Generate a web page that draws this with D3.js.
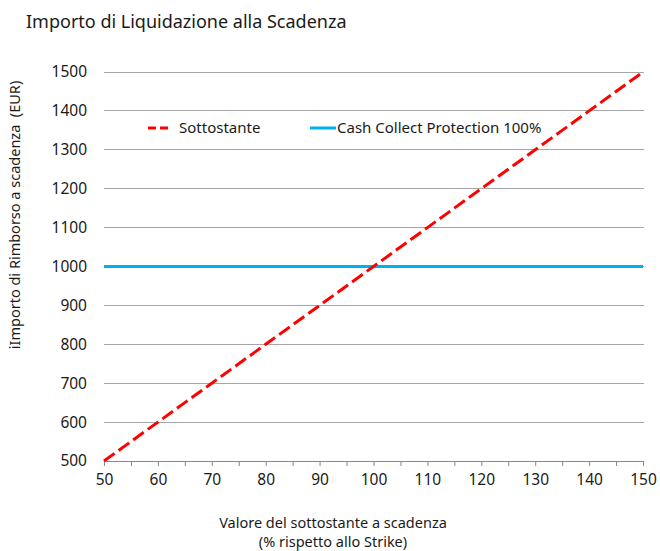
<!DOCTYPE html>
<html><head><meta charset="utf-8">
<script src="https://cdn.jsdelivr.net/npm/d3@7"></script>
<style>body{margin:0;background:#fff}svg{display:block}text{font-family:"Noto Sans",sans-serif;fill:#1a1a1a}</style>
</head><body>
<script>
const xValues = [50,55,60,65,70,75,80,85,90,95,100,105,110,115,120,125,130,135,140,145,150];
const sottostante = [500,550,600,650,700,750,800,850,900,950,1000,1050,1100,1150,1200,1250,1300,1350,1400,1450,1500];
const protection = [1000,1000,1000,1000,1000,1000,1000,1000,1000,1000,1000,1000,1000,1000,1000,1000,1000,1000,1000,1000,1000];
const yTicks = [500,600,700,800,900,1000,1100,1200,1300,1400,1500];
const xTicks = [50,60,70,80,90,100,110,120,130,140,150];
const seriesNames = ["Sottostante","Cash Collect Protection 100%"];

const W=660,H=551;
const svg=d3.select("body").append("svg").attr("width",W).attr("height",H);
const x=d3.scaleLinear().domain([50,150]).range([104,643]);
const y=d3.scaleLinear().domain([500,1500]).range([461,72]);

svg.append("text").attr("x",26).attr("y",28).attr("font-size",18).attr("fill","#000").text("Importo di Liquidazione alla Scadenza");

// grid
svg.append("g").selectAll("line").data(yTicks.filter(d=>d>500)).join("line")
  .attr("x1",104).attr("x2",644).attr("y1",d=>y(d)).attr("y2",d=>y(d))
  .attr("stroke","#a6a6a6").attr("stroke-width",1).attr("shape-rendering","crispEdges");

// y axis labels
const ya=svg.append("g").attr("transform","translate(104,0)")
  .call(d3.axisLeft(y).tickValues(yTicks).tickSize(0).tickPadding(17).tickFormat(d3.format("d")));
ya.select(".domain").remove();
ya.selectAll("text").attr("font-size",15.5).attr("font-family","Noto Sans").attr("fill","#1a1a1a");

// x axis
const xa=svg.append("g").attr("transform",`translate(0,${y(500)})`)
  .call(d3.axisBottom(x).tickValues(xValues).tickSize(5).tickSizeOuter(0).tickFormat(d=>xTicks.includes(d)?d:""));
xa.select(".domain").attr("stroke","#888");
xa.selectAll(".tick line").attr("stroke","#888");
xa.selectAll("text").attr("font-size",15.5).attr("font-family","Noto Sans").attr("fill","#1a1a1a").attr("dy","1.05em");

// lines
const line=d3.line().x((d,i)=>x(xValues[i])).y(d=>y(d));
svg.append("path").datum(protection).attr("d",line).attr("fill","none").attr("stroke","#00b0f0").attr("stroke-width",3);
svg.append("path").datum(sottostante).attr("d",line).attr("fill","none").attr("stroke","#ff0000").attr("stroke-width",3).attr("stroke-dasharray","13,5");

// legend
const lg=svg.append("g");
lg.append("line").attr("x1",148).attr("x2",172).attr("y1",128).attr("y2",128).attr("stroke","#ff0000").attr("stroke-width",3).attr("stroke-dasharray","8,4");
lg.append("text").attr("x",179).attr("y",133).attr("font-size",15).text(seriesNames[0]);
lg.append("line").attr("x1",310).attr("x2",336).attr("y1",128).attr("y2",128).attr("stroke","#00b0f0").attr("stroke-width",3);
lg.append("text").attr("x",337).attr("y",133).attr("font-size",15).text(seriesNames[1]);

// axis titles
svg.append("text").attr("transform","translate(20,215) rotate(-90)").attr("text-anchor","middle").attr("font-size",14.5).attr("xml:space","preserve").text("iImporto di Rimborso a scadenza  (EUR)");
svg.append("text").attr("x",333).attr("y",528).attr("text-anchor","middle").attr("font-size",14.5).text("Valore del sottostante a scadenza");
svg.append("text").attr("x",333).attr("y",547).attr("text-anchor","middle").attr("font-size",14.5).text("(% rispetto allo Strike)");
</script>
</body></html>
